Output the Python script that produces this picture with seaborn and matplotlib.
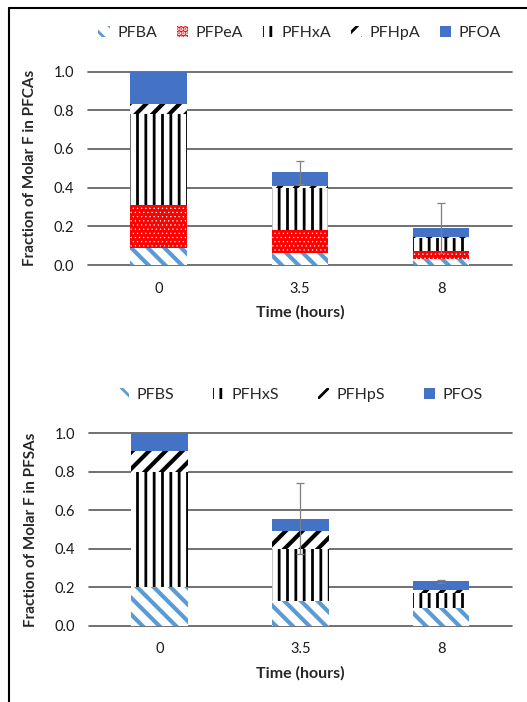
import numpy as np
import seaborn as sns
import matplotlib.pyplot as plt
from matplotlib.patches import Patch
from matplotlib.lines import Line2D

times = ["0", "3.5", "8"]

# PFCAs - fraction of molar F, stacked bottom -> top
pfca_names = ["PFBA", "PFPeA", "PFHxA", "PFHpA", "PFOA"]
pfba = [0.09, 0.06, 0.03]
pfpea = [0.22, 0.12, 0.04]
pfhxa = [0.47, 0.22, 0.07]
pfhpa = [0.05, 0.01, 0.005]
pfoa = [0.17, 0.07, 0.045]
pfca_err = [0.0, 0.06, 0.13]

# PFSAs
pfsa_names = ["PFBS", "PFHxS", "PFHpS", "PFOS"]
pfbs = [0.20, 0.13, 0.09]
pfhxs = [0.60, 0.27, 0.08]
pfhps = [0.11, 0.09, 0.015]
pfos = [0.09, 0.065, 0.045]
pfsa_err = [0.0, 0.185, 0.006]

# face colour, hatch colour, hatch, hatch linewidth
styles = {
    "stripe": ("white", "#5B9BD5", "\\\\", 3.0),
    "dots": ("#FF0000", "white", "....", 0.4),
    "vlines": ("white", "black", "||", 2.0),
    "diag": ("white", "black", "//", 3.0),
    "solid": ("#4472C4", "#4472C4", None, 1.0),
}
pfca_styles = ["stripe", "dots", "vlines", "diag", "solid"]
pfsa_styles = ["stripe", "vlines", "diag", "solid"]

sns.set_style("white")
plt.rcParams['font.family'] = ['Lato', 'DejaVu Sans']
plt.rcParams['hatch.linewidth'] = 2.0


def style_patch(p, key):
    face, hcol, hatch, hlw = styles[key]
    p.set_facecolor(face)
    p.set_edgecolor(hcol)
    p.set_linewidth(0)
    p.set_hatch(hatch)
    if hasattr(p, "set_hatch_linewidth"):
        p.set_hatch_linewidth(hlw)


def stacked(ax, layers, keys, names, err, ylabel, colspace):
    cums = np.cumsum(np.array(layers), axis=0)
    # draw from the top layer down so lower layers cover the taller bars
    for i in range(len(layers) - 1, -1, -1):
        sns.barplot(x=times, y=cums[i], order=times, color=styles[keys[i]][0],
                    width=0.4, saturation=1, errorbar=None, ax=ax)
        for p in ax.containers[-1]:
            style_patch(p, keys[i])

    pos = np.arange(len(times))
    err = np.array(err)
    m = err > 0
    ax.errorbar(pos[m], cums[-1][m], yerr=err[m], fmt="none", ecolor="#7F7F7F",
                elinewidth=0.9, capsize=3, capthick=0.9, zorder=5)

    ax.set_xlim(-0.5, len(times) - 0.5)
    ax.set_ylim(0, 1.0)
    ax.set_yticks(np.arange(0, 1.01, 0.2))
    ax.set_yticklabels([f"{v:.1f}" for v in np.arange(0, 1.01, 0.2)])
    ax.yaxis.grid(True, color="#595959", lw=1.2)
    for gl in ax.get_ygridlines():
        gl.set_clip_on(False)
    ax.set_axisbelow(True)
    sns.despine(ax=ax, left=True, bottom=True)
    ax.tick_params(axis="both", length=0, labelsize=10.5, colors="#1a1a1a")
    ax.tick_params(axis="y", pad=10)
    ax.tick_params(axis="x", pad=12)
    ax.set_xlabel("Time (hours)", fontsize=11.5, fontweight="bold", labelpad=7)
    ax.set_ylabel(ylabel, fontsize=11, fontweight="bold", labelpad=12)

    handles = []
    for name, key in zip(names, keys):
        face, hcol, hatch, hlw = styles[key]
        h = Patch(facecolor=face, edgecolor=hcol, hatch=hatch, linewidth=0, label=name)
        handles.append(h)
    ax.legend(handles=handles, loc="center", bbox_to_anchor=(0.5, 1.2), ncol=len(names),
              frameon=False, fontsize=11.5, handlelength=0.7, handleheight=0.7,
              handletextpad=0.5, columnspacing=colspace)


fig = plt.figure(figsize=(5.27, 7.02), dpi=100)
ax1 = fig.add_axes([0.167, 0.6225, 0.804, 0.2755])
ax2 = fig.add_axes([0.169, 0.1087, 0.802, 0.2741])

stacked(ax1, [pfba, pfpea, pfhxa, pfhpa, pfoa], pfca_styles, pfca_names, pfca_err,
        "Fraction of Molar F in PFCAs", 1.2)
stacked(ax2, [pfbs, pfhxs, pfhps, pfos], pfsa_styles, pfsa_names, pfsa_err,
        "Fraction of Molar F in PFSAs", 2.4)

# outer frame (top and left edges only, as in the source)
fig.add_artist(Line2D([9 / 527, 1], [694 / 702, 694 / 702], transform=fig.transFigure,
                      color="black", lw=1.5))
fig.add_artist(Line2D([9 / 527, 9 / 527], [0, 694 / 702], transform=fig.transFigure,
                      color="black", lw=1.5))

fig.savefig("out.png", dpi=100)
